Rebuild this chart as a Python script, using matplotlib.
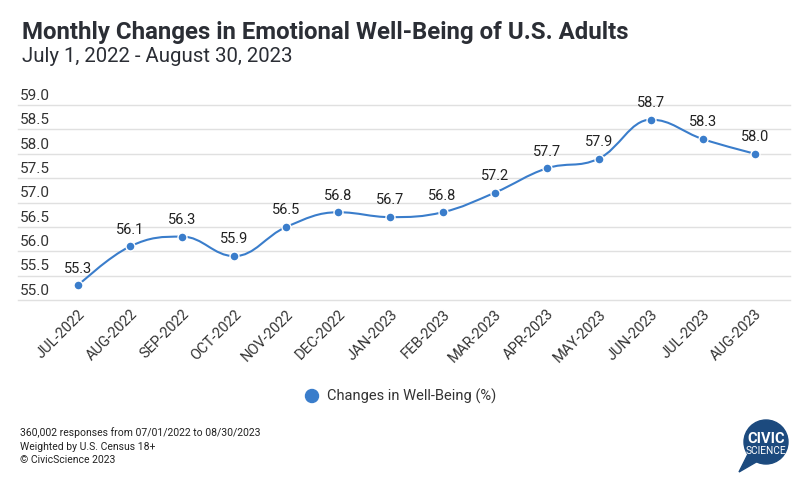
import numpy as np
import matplotlib.pyplot as plt
from matplotlib.path import Path
from matplotlib.patches import PathPatch, Circle, Polygon, Ellipse
from matplotlib.transforms import blended_transform_factory

# chart data
months = ["JUL-2022", "AUG-2022", "SEP-2022", "OCT-2022", "NOV-2022", "DEC-2022",
          "JAN-2023", "FEB-2023", "MAR-2023", "APR-2023", "MAY-2023", "JUN-2023",
          "JUL-2023", "AUG-2023"]
wellbeing = [55.3, 56.1, 56.3, 55.9, 56.5, 56.8, 56.7, 56.8, 57.2, 57.7, 57.9, 58.7, 58.3, 58.0]
y_ticks = [55.0, 55.5, 56.0, 56.5, 57.0, 57.5, 58.0, 58.5, 59.0]

LINE = "#3a7dcb"
TEXT = "#2b2e35"
plt.rcParams["font.family"] = ["Roboto", "DejaVu Sans"]

W, H = 804, 482
fig = plt.figure(figsize=(W / 100, H / 100), dpi=100)
ax = fig.add_axes([18 / W, 1 - 300 / H, (790 - 18) / W, (300 - 105) / H])

x = np.arange(len(months))
y = np.array(wellbeing)


def spline_path(xs, ys, smoothing=1.5):
    # highcharts-style spline through the points
    n = len(xs)
    left = [(xs[0], ys[0])] * n
    right = [(xs[0], ys[0])] * n
    denom = smoothing + 1
    for i in range(n):
        px, py = xs[i], ys[i]
        if i == 0 or i == n - 1:
            left[i] = (px, py)
            right[i] = (px, py)
            continue
        lx, ly = xs[i - 1], ys[i - 1]
        nx, ny = xs[i + 1], ys[i + 1]
        lcx = (smoothing * px + lx) / denom
        lcy = (smoothing * py + ly) / denom
        rcx = (smoothing * px + nx) / denom
        rcy = (smoothing * py + ny) / denom
        corr = (rcy - lcy) * (rcx - px) / (rcx - lcx) + py - rcy
        lcy += corr
        rcy += corr
        if lcy > ly and lcy > py:
            lcy = max(ly, py)
            rcy = 2 * py - lcy
        elif lcy < ly and lcy < py:
            lcy = min(ly, py)
            rcy = 2 * py - lcy
        if rcy > ny and rcy > py:
            rcy = max(ny, py)
            lcy = 2 * py - rcy
        elif rcy < ny and rcy < py:
            rcy = min(ny, py)
            lcy = 2 * py - rcy
        left[i] = (lcx, lcy)
        right[i] = (rcx, rcy)
    verts = [(xs[0], ys[0])]
    codes = [Path.MOVETO]
    for i in range(1, n):
        verts += [right[i - 1], left[i], (xs[i], ys[i])]
        codes += [Path.CURVE4] * 3
    return Path(verts, codes)


# grid + y labels
for t in y_ticks:
    ax.axhline(t, color="#e0e0e0", lw=1, zorder=0, clip_on=False)
trans = blended_transform_factory(ax.transAxes, ax.transData)
for t in y_ticks:
    ax.text(2 / (790 - 18), t + 0.045, f"{t:.1f}", transform=trans, ha="left",
            va="bottom", fontsize=11, color="#333333")

ax.add_patch(PathPatch(spline_path(x, y), fc="none", ec=LINE, lw=1.5, zorder=2))
ax.scatter(x, y, s=42, color=LINE, edgecolor="white", linewidth=1, zorder=3)
for xi, yi in zip(x, y):
    ax.annotate(f"{yi:.1f}", (xi, yi), xytext=(0, 7), textcoords="offset points",
                ha="center", va="bottom", fontsize=10.5, color="#222222")

ax.set_xlim(-(78 - 18) / 52, 13 + (790 - 755) / 52)
ax.set_ylim(55, 59)
ax.set_xticks(x)
ax.set_xticklabels(months, rotation=45, ha="right", rotation_mode="anchor",
                   fontsize=10.5, color="#333333")
ax.tick_params(axis="x", length=0, pad=5)
ax.set_yticks([])
for s in ax.spines.values():
    s.set_visible(False)

# titles
fig.text(22 / W, 1 - 33 / H, "Monthly Changes in Emotional Well-Being of U.S. Adults",
         fontsize=17.3, fontweight="bold", color=TEXT, va="center")
fig.text(22 / W, 1 - 57 / H, "July 1, 2022 - August 30, 2023",
         fontsize=14.7, color=TEXT, va="center")

# legend
fig.add_artist(Ellipse((312 / W, 1 - 396 / H), 13 / W, 13 / H,
                       transform=fig.transFigure, color=LINE))
fig.text(327 / W, 1 - 396 / H, "Changes in Well-Being (%)", fontsize=10.5,
         color="#333333", va="center")

# footnote
notes = ["360,002 responses from 07/01/2022 to 08/30/2023",
         "Weighted by U.S. Census 18+",
         "\u00a9 CivicScience 2023"]
for i, line in enumerate(notes):
    fig.text(20 / W, 1 - (433 + 13.5 * i) / H, line, fontsize=7.5,
             color="#222222", va="center")

# logo
navy = "#1c4a7e"
lax = fig.add_axes([730 / W, 1 - 474 / H, 66 / W, 60 / H])
lax.set_xlim(0, 66)
lax.set_ylim(0, 60)
lax.set_aspect("equal")
lax.axis("off")
lax.add_patch(Circle((36, 32), 22, color=navy))
lax.add_patch(Polygon([(18, 20), (9, 2), (28, 13)], closed=True, color=navy))
lax.text(36, 35, "CIVIC", ha="center", va="center", color="white",
         fontsize=10.5, fontweight="bold")
lax.text(36, 23, "SCIENCE", ha="center", va="center", color="white", fontsize=7.3)

fig.savefig("out.png", dpi=100)
